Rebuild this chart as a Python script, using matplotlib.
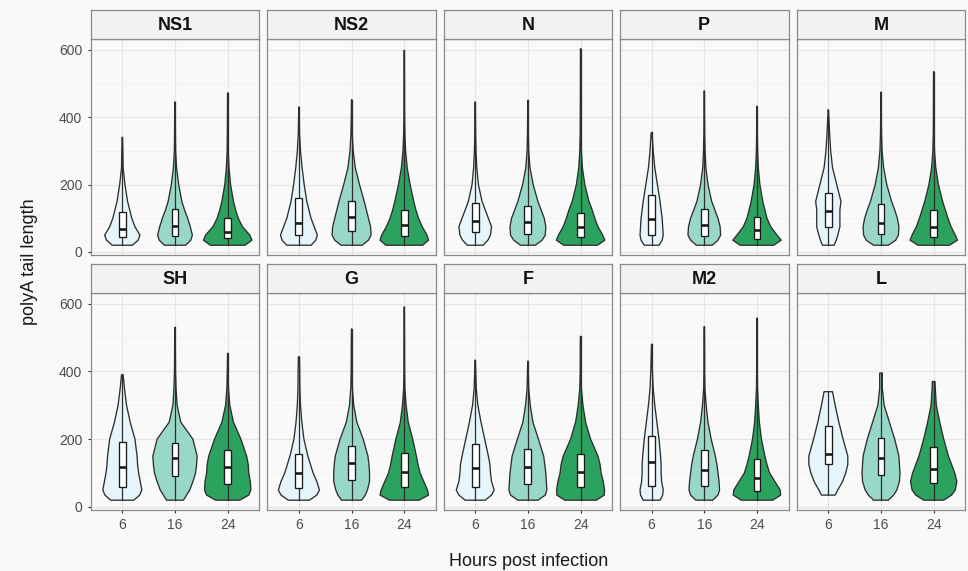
import numpy as np

import matplotlib
matplotlib.use("Agg")

import matplotlib.pyplot as plt

plt.rcParams['font.family'] = ['Liberation Sans', 'DejaVu Sans']

GENES = ['NS1', 'NS2', 'N', 'P', 'M', 'SH', 'G', 'F', 'M2', 'L']
HOURS = ['6', '16', '24']
COLORS = ['#e5f5f9', '#99d8c9', '#2ca25f']

# polyA length levels at which the violin half-widths were read
GRID = [20, 35, 50, 75, 100, 125, 150, 200, 250, 300, 350, 400, 500]

# half-widths (category units) at GRID levels, per gene and time point
WIDTHS = {
	'NS1': [[0.19, 0.30, 0.335, 0.24, 0.18, 0.14, 0.10, 0.05, 0.015, 0.01],
			[0.20, 0.30, 0.33, 0.29, 0.24, 0.18, 0.13, 0.07, 0.03, 0.012, 0.008, 0.006],
			[0.33, 0.46, 0.42, 0.28, 0.20, 0.15, 0.11, 0.055, 0.025, 0.01, 0.007, 0.005]],
	'NS2': [[0.23, 0.32, 0.35, 0.29, 0.23, 0.19, 0.15, 0.10, 0.06, 0.03, 0.012, 0.006],
			[0.20, 0.32, 0.37, 0.36, 0.32, 0.28, 0.24, 0.15, 0.07, 0.03, 0.012, 0.006],
			[0.35, 0.46, 0.43, 0.34, 0.27, 0.22, 0.18, 0.11, 0.055, 0.025, 0.012, 0.007, 0.005]],
	'N':   [[0.15, 0.24, 0.29, 0.31, 0.25, 0.19, 0.13, 0.06, 0.03, 0.015, 0.008, 0.005],
			[0.14, 0.27, 0.33, 0.34, 0.31, 0.25, 0.19, 0.10, 0.04, 0.015, 0.008, 0.005],
			[0.32, 0.46, 0.42, 0.33, 0.27, 0.22, 0.16, 0.08, 0.035, 0.015, 0.008, 0.006, 0.004]],
	'P':   [[0.14, 0.20, 0.22, 0.21, 0.20, 0.18, 0.16, 0.11, 0.06, 0.03, 0.01],
			[0.15, 0.26, 0.31, 0.30, 0.26, 0.20, 0.14, 0.07, 0.03, 0.015, 0.008, 0.005],
			[0.32, 0.46, 0.38, 0.26, 0.19, 0.15, 0.11, 0.055, 0.025, 0.012, 0.007, 0.005]],
	'M':   [[0.11, 0.15, 0.18, 0.22, 0.22, 0.22, 0.24, 0.16, 0.08, 0.045, 0.025, 0.01],
			[0.14, 0.28, 0.33, 0.34, 0.31, 0.26, 0.20, 0.11, 0.05, 0.02, 0.01, 0.006],
			[0.30, 0.45, 0.41, 0.33, 0.27, 0.22, 0.17, 0.09, 0.04, 0.015, 0.008, 0.006, 0.004]],
	'SH':  [[0.22, 0.33, 0.37, 0.34, 0.31, 0.29, 0.28, 0.24, 0.15, 0.08, 0.04],
			[0.16, 0.22, 0.28, 0.34, 0.39, 0.41, 0.42, 0.34, 0.11, 0.04, 0.02, 0.01, 0.005],
			[0.23, 0.40, 0.44, 0.43, 0.40, 0.39, 0.36, 0.25, 0.11, 0.04, 0.015, 0.008]],
	'G':   [[0.20, 0.34, 0.39, 0.34, 0.27, 0.22, 0.17, 0.095, 0.055, 0.03, 0.018, 0.015],
			[0.19, 0.26, 0.30, 0.34, 0.34, 0.33, 0.31, 0.22, 0.10, 0.04, 0.015, 0.008, 0.005],
			[0.28, 0.46, 0.44, 0.37, 0.30, 0.26, 0.23, 0.16, 0.075, 0.035, 0.012, 0.007, 0.005]],
	'F':   [[0.19, 0.31, 0.36, 0.31, 0.29, 0.28, 0.25, 0.18, 0.11, 0.05, 0.02, 0.01],
			[0.19, 0.33, 0.36, 0.35, 0.34, 0.32, 0.30, 0.20, 0.095, 0.045, 0.015, 0.008],
			[0.30, 0.45, 0.455, 0.43, 0.39, 0.37, 0.33, 0.19, 0.095, 0.045, 0.015, 0.008, 0.005]],
	'M2':  [[0.16, 0.21, 0.22, 0.19, 0.18, 0.18, 0.17, 0.14, 0.10, 0.06, 0.03, 0.015],
			[0.16, 0.26, 0.29, 0.28, 0.26, 0.24, 0.21, 0.13, 0.07, 0.035, 0.012, 0.007, 0.005],
			[0.30, 0.45, 0.44, 0.34, 0.24, 0.19, 0.15, 0.085, 0.045, 0.025, 0.01, 0.006, 0.004]],
	'L':   [[0.13, 0.13, 0.18, 0.27, 0.33, 0.37, 0.37, 0.28, 0.20, 0.13],
			[0.14, 0.24, 0.30, 0.35, 0.36, 0.35, 0.34, 0.26, 0.16, 0.06, 0.025],
			[0.19, 0.34, 0.41, 0.44, 0.40, 0.34, 0.28, 0.19, 0.115, 0.05, 0.03]],
}

Y_MIN = {g: [20, 20, 20] for g in GENES}
Y_MIN['L'] = [35, 20, 20]

Y_MAX = {
	'NS1': [340, 445, 472], 'NS2': [430, 452, 598], 'N': [445, 450, 603],
	'P': [355, 478, 432], 'M': [422, 474, 535], 'SH': [390, 530, 453],
	'G': [443, 525, 590], 'F': [433, 430, 503], 'M2': [480, 532, 557],
	'L': [340, 395, 370],
}

# half-width at the top end of each violin
TIP = {g: [0.003, 0.003, 0.003] for g in GENES}
TIP['SH'] = [0.015, 0.003, 0.003]
TIP['G'] = [0.01, 0.003, 0.003]
TIP['L'] = [0.08, 0.025, 0.025]

# boxplot quartiles: (q1, median, q3)
BOXES = {
	'NS1': [(44, 68, 118), (47, 78, 127), (41, 60, 100)],
	'NS2': [(50, 86, 159), (63, 103, 152), (48, 80, 125)],
	'N':   [(58, 92, 144), (52, 90, 136), (45, 75, 116)],
	'P':   [(50, 98, 169), (48, 80, 127), (38, 66, 103)],
	'M':   [(73, 122, 174), (53, 87, 142), (45, 75, 124)],
	'SH':  [(58, 119, 193), (90, 144, 190), (68, 117, 168)],
	'G':   [(55, 100, 156), (80, 129, 180), (60, 102, 159)],
	'F':   [(58, 115, 185), (68, 117, 172), (58, 102, 155)],
	'M2':  [(62, 132, 208), (63, 110, 168), (47, 85, 140)],
	'L':   [(127, 155, 240), (95, 145, 202), (70, 112, 177)],
}

W, H = 968, 571
BG = '#f9f9f9'
EDGE = '#8a8a8a'

def drawViolin(ax, pos, gene, k):
	lo, hi = Y_MIN[gene][k], Y_MAX[gene][k]
	hw = WIDTHS[gene][k]
	ys = [lo] + [g for g in GRID[1:len(hw)] if lo < g < hi] + [hi]
	ws = [hw[0]] + [w for g, w in zip(GRID[1:], hw[1:]) if lo < g < hi] + [TIP[gene][k]]
	ys, ws = np.array(ys, float), np.array(ws)
	xs = np.concatenate([pos + ws, (pos - ws)[::-1]])
	yy = np.concatenate([ys, ys[::-1]])
	ax.fill(xs, yy, facecolor = COLORS[k], edgecolor = '#2e2e2e', lw = 0.95,
			joinstyle = 'round', zorder = 2)
	ax.plot([pos, pos], [lo, hi], color = '#2e2e2e', lw = 0.9, zorder = 3)
	q1, med, q3 = BOXES[gene][k]
	bw = 0.065
	ax.fill([pos - bw, pos + bw, pos + bw, pos - bw], [q1, q1, q3, q3],
			facecolor = 'white', edgecolor = '#1a1a1a', lw = 0.95, zorder = 4)
	ax.plot([pos - bw, pos + bw], [med, med], color = '#1a1a1a', lw = 1.9, zorder = 5,
			solid_capstyle = 'butt')

fig = plt.figure(figsize = (W / 100, H / 100), dpi = 100, facecolor = BG)

lefts = [90.7, 267.3, 443.6, 620.0, 796.7]
pw = 168.6
rows = [(10, 39, 255), (264, 292.7, 510)]

for i, gene in enumerate(GENES):
	r, c = divmod(i, 5)
	sTop, pTop, pBot = rows[r]
	l = lefts[c]

	ax = fig.add_axes([l / W, 1 - pBot / H, pw / W, (pBot - pTop) / H], facecolor = BG)
	for k in range(3):
		drawViolin(ax, k + 1, gene, k)
	ax.set_xlim(0.4, 3.6)
	ax.set_ylim(-9, 632)
	ax.set_xticks([1, 2, 3])
	ax.set_xticklabels(HOURS)
	ax.set_yticks([0, 200, 400, 600])
	ax.set_yticks([100, 300, 500], minor = True)
	ax.grid(which = 'major', color = '#e6e6e6', lw = 0.9, zorder = 0)
	ax.grid(which = 'minor', axis = 'y', color = '#eeeeee', lw = 0.5, zorder = 0)
	ax.set_axisbelow(True)
	ax.tick_params(which = 'minor', length = 0)
	ax.tick_params(colors = '#333333', labelcolor = '#4d4d4d', labelsize = 10, length = 2.5, width = 0.8)
	if c != 0:
		ax.tick_params(axis = 'y', length = 0, labelleft = False)
	if r == 0:
		ax.tick_params(axis = 'x', length = 0, labelbottom = False)
	for s in ax.spines.values():
		s.set_color(EDGE)
		s.set_linewidth(0.9)

	sx = fig.add_axes([l / W, 1 - pTop / H, pw / W, (pTop - sTop) / H], facecolor = '#f2f2f2')
	sx.set_xticks([])
	sx.set_yticks([])
	for s in sx.spines.values():
		s.set_color(EDGE)
		s.set_linewidth(0.9)
	sx.text(0.5, 0.47, gene, transform = sx.transAxes, ha = 'center', va = 'center',
			fontsize = 13, fontweight = 'bold', color = '#111111')

fig.text(30 / W, 1 - 262 / H, 'polyA tail length', rotation = 90, ha = 'center', va = 'center',
		 fontsize = 13, color = '#1a1a1a')
fig.text(529 / W, 1 - 561 / H, 'Hours post infection', ha = 'center', va = 'center',
		 fontsize = 13, color = '#1a1a1a')

plt.savefig('out.png', dpi = 100, facecolor = BG)
